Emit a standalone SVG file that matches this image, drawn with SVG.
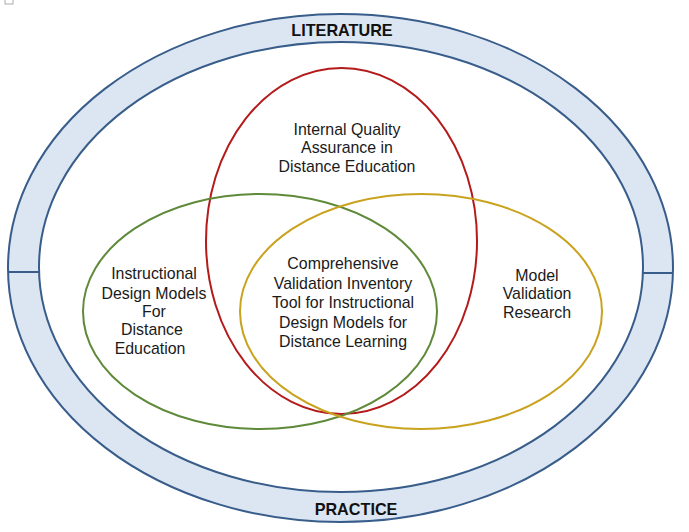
<svg xmlns="http://www.w3.org/2000/svg" width="689" height="532" viewBox="0 0 689 532">
<style>
.band{fill:#DCE6F2;stroke:#385D8A;stroke-width:2}
.inner{fill:#FFFFFF;stroke:#385D8A;stroke-width:2}
.t{font-family:"Liberation Sans",Arial,sans-serif;font-size:15.9px;fill:#1a1a1a;text-anchor:middle}
.b{font-family:"Liberation Sans",Arial,sans-serif;font-size:16.2px;font-weight:bold;fill:#111;text-anchor:middle}
.ring{fill:none;stroke-width:2}
</style>
<rect width="689" height="532" fill="#FFFFFF"/>
<rect x="5" y="-2" width="8" height="6" fill="none" stroke="#999" stroke-width="0.8"/>
<g id="frame">
<ellipse class="band" cx="340.5" cy="268" rx="332.5" ry="254"/>
<ellipse class="inner" cx="341" cy="267" rx="302" ry="225"/>
<line x1="8" y1="272" x2="39" y2="272" stroke="#385D8A" stroke-width="2"/>
<line x1="643" y1="273" x2="673" y2="273" stroke="#385D8A" stroke-width="2"/>
<text class="b" x="342" y="35.5">LITERATURE</text>
<text class="b" x="356" y="514.5">PRACTICE</text>
</g>
<g id="quality">
<ellipse class="ring" cx="341.5" cy="241" rx="135.5" ry="173" stroke="#B31B1B"/>
<text class="t" x="347" y="134.5">Internal Quality</text>
<text class="t" x="347" y="152.5">Assurance in</text>
<text class="t" x="347" y="171.5">Distance Education</text>
</g>
<g id="design">
<ellipse class="ring" cx="260" cy="311.5" rx="177" ry="117.5" stroke="#5E8A3A"/>
<text class="t" x="154" y="278.5">Instructional</text>
<text class="t" x="154" y="298.5">Design Models</text>
<text class="t" x="154" y="316.5">For</text>
<text class="t" x="152" y="334.5">Distance</text>
<text class="t" x="150" y="353.5">Education</text>
</g>
<g id="validation">
<ellipse class="ring" cx="421" cy="311.5" rx="181" ry="117.5" stroke="#C9A21E"/>
<text class="t" x="537" y="280.5">Model</text>
<text class="t" x="537" y="298.5">Validation</text>
<text class="t" x="537" y="317.5">Research</text>
</g>
<g id="center">
<text class="t" x="343" y="268.5">Comprehensive</text>
<text class="t" x="343" y="288.5">Validation Inventory</text>
<text class="t" x="343" y="307.5">Tool for Instructional</text>
<text class="t" x="343" y="327.5">Design Models for</text>
<text class="t" x="343" y="346.5">Distance Learning</text>
</g>
<g id="connectors"></g>
</svg>
